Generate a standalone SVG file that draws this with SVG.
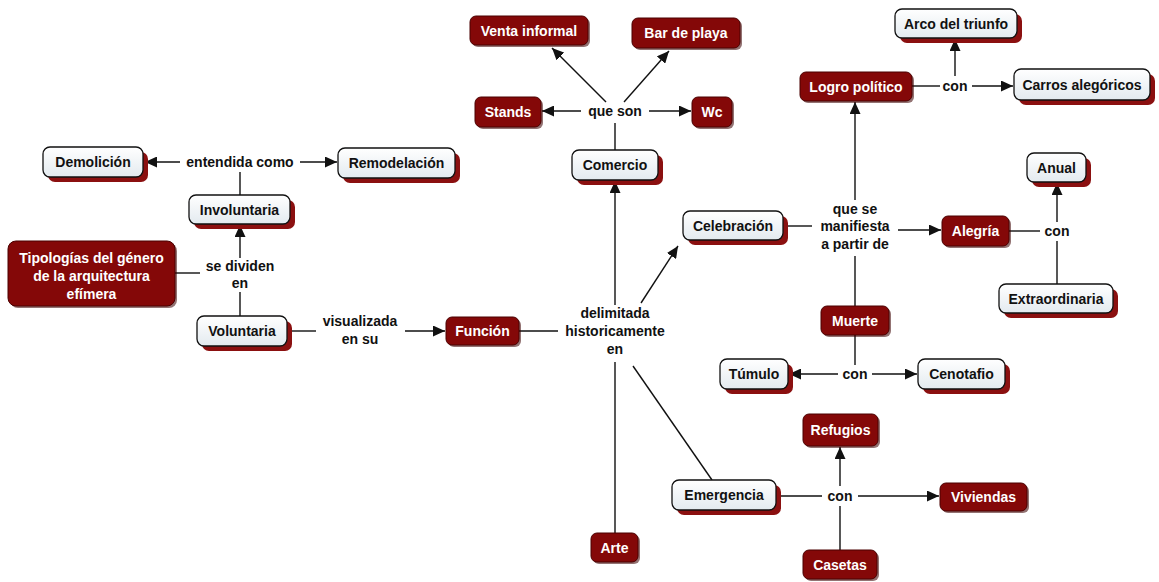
<svg xmlns="http://www.w3.org/2000/svg" width="1159" height="582" viewBox="0 0 1159 582">
<defs>
<style>
text{font-family:"Liberation Sans",Arial,sans-serif;font-weight:bold;font-size:14px;text-anchor:middle}
.tl{fill:#111}
.tw{fill:#fff}
.lab{fill:#111}
.lf{fill:url(#g);stroke:#111;stroke-width:1.3}
.ls{fill:#8b1010}
.df{fill:#840808;stroke:#4a0000;stroke-width:1}
.ds{fill:#3a0000;opacity:0.55}
.c line{stroke:#111;stroke-width:1.4}
.c .a{marker-end:url(#ah)}
</style>
<linearGradient id="g" x1="0" y1="0" x2="0" y2="1">
<stop offset="0" stop-color="#ffffff"/>
<stop offset="1" stop-color="#e3eaef"/>
</linearGradient>
<marker id="ah" markerUnits="userSpaceOnUse" markerWidth="12" markerHeight="11" refX="12" refY="5.5" orient="auto">
<path d="M0,0 L12,5.5 L0,11 z" fill="#111"/>
</marker>
</defs>
<rect width="1159" height="582" fill="#fff"/>

<g class="c" id="connectors">
<line x1="240" y1="195" x2="240" y2="172"/>
<line class="a" x1="180" y1="162" x2="145" y2="162"/>
<line class="a" x1="300" y1="162" x2="337" y2="162"/>
<line x1="175" y1="273" x2="200" y2="273"/>
<line class="a" x1="240" y1="258" x2="240" y2="225"/>
<line x1="240" y1="292" x2="240" y2="316"/>
<line x1="287" y1="331" x2="316" y2="331"/>
<line class="a" x1="405" y1="331" x2="445" y2="331"/>
<line x1="519" y1="331" x2="558" y2="331"/>
<line class="a" x1="615" y1="305" x2="615" y2="181"/>
<line class="a" x1="641" y1="303" x2="678" y2="246"/>
<line x1="615" y1="362" x2="615" y2="533"/>
<line x1="633" y1="366" x2="712" y2="480"/>
<line x1="615" y1="150" x2="615" y2="123"/>
<line class="a" x1="581" y1="111" x2="542" y2="111"/>
<line class="a" x1="649" y1="111" x2="691" y2="111"/>
<line class="a" x1="606" y1="102" x2="552" y2="48"/>
<line class="a" x1="624" y1="102" x2="669" y2="51"/>
<line x1="783" y1="226" x2="812" y2="226"/>
<line class="a" x1="898" y1="230" x2="941" y2="230"/>
<line class="a" x1="855" y1="200" x2="855" y2="102"/>
<line x1="855" y1="256" x2="855" y2="306"/>
<line x1="912" y1="86" x2="940" y2="86"/>
<line class="a" x1="972" y1="86" x2="1013" y2="86"/>
<line class="a" x1="955" y1="76" x2="955" y2="39"/>
<line x1="1009" y1="231" x2="1040" y2="231"/>
<line class="a" x1="1057" y1="222" x2="1057" y2="183"/>
<line x1="1057" y1="241" x2="1057" y2="284"/>
<line x1="855" y1="335" x2="855" y2="365"/>
<line class="a" x1="838" y1="374" x2="789" y2="374"/>
<line class="a" x1="872" y1="374" x2="917" y2="374"/>
<line x1="776" y1="496" x2="822" y2="496"/>
<line class="a" x1="858" y1="496" x2="939" y2="496"/>
<line class="a" x1="840" y1="486" x2="840" y2="447"/>
<line x1="840" y1="506" x2="840" y2="550"/>
</g>

<g id="labels">
<text class="lab" x="240" y="167">entendida como</text>
<text class="lab" x="240" y="271">se dividen</text>
<text class="lab" x="240" y="288">en</text>
<text class="lab" x="360" y="326">visualizada</text>
<text class="lab" x="360" y="344">en su</text>
<text class="lab" x="615" y="318">delimitada</text>
<text class="lab" x="615" y="336">historicamente</text>
<text class="lab" x="615" y="354">en</text>
<text class="lab" x="615" y="116">que son</text>
<text class="lab" x="855" y="214">que se</text>
<text class="lab" x="855" y="231">manifiesta</text>
<text class="lab" x="855" y="249">a partir de</text>
<text class="lab" x="955" y="91">con</text>
<text class="lab" x="1057" y="236">con</text>
<text class="lab" x="855" y="379">con</text>
<text class="lab" x="840" y="501">con</text>
</g>

<g id="demolicion"><rect class="ls" x="48" y="152" width="100" height="30" rx="7"/><rect class="lf" x="43" y="147" width="100" height="30" rx="7"/><text class="tl" x="93" y="167">Demolición</text></g>
<g id="remodelacion"><rect class="ls" x="343" y="153" width="117" height="30" rx="7"/><rect class="lf" x="338" y="148" width="117" height="30" rx="7"/><text class="tl" x="396.5" y="168">Remodelación</text></g>
<g id="involuntaria"><rect class="ls" x="194" y="200" width="101" height="29" rx="7"/><rect class="lf" x="189" y="195" width="101" height="29" rx="7"/><text class="tl" x="239.5" y="214.5">Involuntaria</text></g>
<g id="voluntaria"><rect class="ls" x="202" y="321" width="90" height="30" rx="7"/><rect class="lf" x="197" y="316" width="90" height="30" rx="7"/><text class="tl" x="242" y="336">Voluntaria</text></g>
<g id="comercio"><rect class="ls" x="577" y="155" width="86" height="30" rx="7"/><rect class="lf" x="572" y="150" width="86" height="30" rx="7"/><text class="tl" x="615" y="170">Comercio</text></g>
<g id="celebracion"><rect class="ls" x="688" y="216" width="100" height="29" rx="7"/><rect class="lf" x="683" y="211" width="100" height="29" rx="7"/><text class="tl" x="733" y="230.5">Celebración</text></g>
<g id="arco"><rect class="ls" x="900" y="14" width="122" height="29" rx="7"/><rect class="lf" x="895" y="9" width="122" height="29" rx="7"/><text class="tl" x="956" y="28.5">Arco del triunfo</text></g>
<g id="carros"><rect class="ls" x="1019" y="74" width="136" height="31" rx="7"/><rect class="lf" x="1014" y="69" width="136" height="31" rx="7"/><text class="tl" x="1082" y="89.5">Carros alegóricos</text></g>
<g id="anual"><rect class="ls" x="1032" y="158" width="59" height="29" rx="7"/><rect class="lf" x="1027" y="153" width="59" height="29" rx="7"/><text class="tl" x="1056.5" y="172.5">Anual</text></g>
<g id="extraordinaria"><rect class="ls" x="1004" y="289" width="114" height="29" rx="7"/><rect class="lf" x="999" y="284" width="114" height="29" rx="7"/><text class="tl" x="1056" y="303.5">Extraordinaria</text></g>
<g id="tumulo"><rect class="ls" x="725" y="364" width="68" height="30" rx="7"/><rect class="lf" x="720" y="359" width="68" height="30" rx="7"/><text class="tl" x="754" y="379">Túmulo</text></g>
<g id="cenotafio"><rect class="ls" x="923" y="364" width="87" height="30" rx="7"/><rect class="lf" x="918" y="359" width="87" height="30" rx="7"/><text class="tl" x="961.5" y="379">Cenotafio</text></g>
<g id="emergencia"><rect class="ls" x="677" y="485" width="104" height="30" rx="7"/><rect class="lf" x="672" y="480" width="104" height="30" rx="7"/><text class="tl" x="724" y="500">Emergencia</text></g>

<g id="tipologias"><rect class="ds" x="10" y="243" width="167" height="65" rx="8"/><rect class="df" x="8" y="241" width="167" height="65" rx="8"/><text class="tw" x="91.5" y="263">Tipologías del género</text><text class="tw" x="91.5" y="281">de la arquitectura</text><text class="tw" x="91.5" y="299">efímera</text></g>
<g id="funcion"><rect class="ds" x="448" y="319" width="73" height="28" rx="6"/><rect class="df" x="446" y="317" width="73" height="28" rx="6"/><text class="tw" x="482.5" y="336">Función</text></g>
<g id="stands"><rect class="ds" x="477" y="99" width="66" height="30" rx="6"/><rect class="df" x="475" y="97" width="66" height="30" rx="6"/><text class="tw" x="508" y="117">Stands</text></g>
<g id="wc"><rect class="ds" x="694" y="99" width="40" height="30" rx="6"/><rect class="df" x="692" y="97" width="40" height="30" rx="6"/><text class="tw" x="712" y="117">Wc</text></g>
<g id="venta"><rect class="ds" x="472" y="18" width="118" height="29" rx="6"/><rect class="df" x="470" y="16" width="118" height="29" rx="6"/><text class="tw" x="529" y="35.5">Venta informal</text></g>
<g id="bar"><rect class="ds" x="634" y="20" width="108" height="30" rx="6"/><rect class="df" x="632" y="18" width="108" height="30" rx="6"/><text class="tw" x="686" y="38">Bar de playa</text></g>
<g id="logro"><rect class="ds" x="802" y="74" width="112" height="29" rx="6"/><rect class="df" x="800" y="72" width="112" height="29" rx="6"/><text class="tw" x="856" y="91.5">Logro político</text></g>
<g id="alegria"><rect class="ds" x="944" y="218" width="67" height="30" rx="6"/><rect class="df" x="942" y="216" width="67" height="30" rx="6"/><text class="tw" x="975.5" y="236">Alegría</text></g>
<g id="muerte"><rect class="ds" x="823" y="308" width="68" height="29" rx="6"/><rect class="df" x="821" y="306" width="68" height="29" rx="6"/><text class="tw" x="855" y="325.5">Muerte</text></g>
<g id="refugios"><rect class="ds" x="805" y="416" width="75" height="32" rx="6"/><rect class="df" x="803" y="414" width="75" height="32" rx="6"/><text class="tw" x="840.5" y="435">Refugios</text></g>
<g id="viviendas"><rect class="ds" x="942" y="485" width="87" height="28" rx="6"/><rect class="df" x="940" y="483" width="87" height="28" rx="6"/><text class="tw" x="983.5" y="502">Viviendas</text></g>
<g id="casetas"><rect class="ds" x="805" y="552" width="74" height="29" rx="6"/><rect class="df" x="803" y="550" width="74" height="29" rx="6"/><text class="tw" x="840" y="569.5">Casetas</text></g>
<g id="arte"><rect class="ds" x="593" y="535" width="47" height="29" rx="6"/><rect class="df" x="591" y="533" width="47" height="29" rx="6"/><text class="tw" x="614.5" y="552.5">Arte</text></g>
</svg>
